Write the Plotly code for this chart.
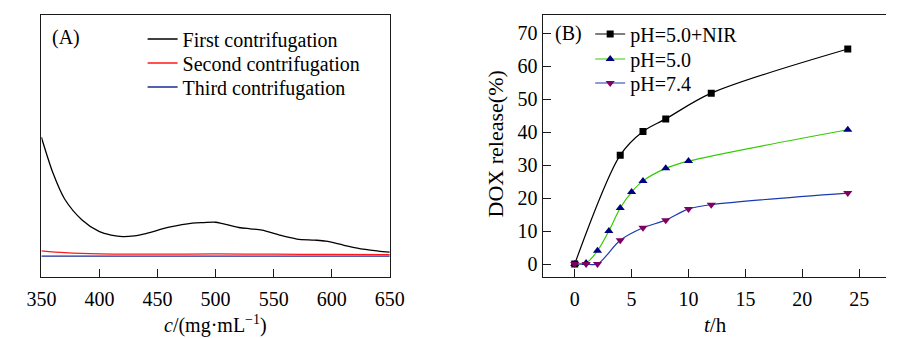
import plotly.graph_objects as go

# Panel A: absorbance spectra of the supernatant after each centrifugation
wavelength = [350, 360, 370, 385, 400, 410, 420, 430, 440, 460, 480, 490, 500, 505,
              520, 530, 540, 555, 570, 585, 595, 610, 627, 640, 650]
first_abs = [0.533, 0.396, 0.297, 0.217, 0.172, 0.159, 0.153, 0.156, 0.165, 0.189,
             0.205, 0.207, 0.208, 0.204, 0.188, 0.183, 0.178, 0.159, 0.144, 0.140,
             0.136, 0.121, 0.105, 0.098, 0.094]
second_wl = [350, 370, 400, 450, 500, 550, 600, 650]
second_abs = [0.099, 0.092, 0.087, 0.086, 0.087, 0.086, 0.085, 0.084]
third_wl = [350, 450, 550, 650]
third_abs = [0.079, 0.079, 0.079, 0.079]

# Panel B: cumulative DOX release
t_nir = [0, 4, 6, 8, 12, 24]
rel_nir = [0, 33.0, 40.2, 44.0, 51.8, 65.2]
t_ph50 = [0, 1, 2, 3, 4, 5, 6, 8, 10, 24]
rel_ph50 = [0, 0.3, 4.0, 10.0, 17.0, 21.8, 25.2, 29.0, 31.2, 40.7]
t_ph74 = [0, 1, 2, 4, 6, 8, 10, 12, 24]
rel_ph74 = [0, 0, 0, 7.2, 11.0, 13.3, 16.7, 18.0, 21.5]

FONT = "Liberation Serif, Times New Roman, Times, serif"
AX = "#1a1a1a"
W, H = 901, 338

fig = go.Figure()

fig.add_trace(go.Scatter(x=wavelength, y=first_abs, mode="lines", name="First contrifugation",
                         line=dict(color="black", width=1.3, shape="spline", smoothing=0.8),
                         xaxis="x", yaxis="y", legend="legend"))
fig.add_trace(go.Scatter(x=second_wl, y=second_abs, mode="lines", name="Second contrifugation",
                         line=dict(color="#ff1a1a", width=1.3, shape="spline", smoothing=0.8),
                         xaxis="x", yaxis="y", legend="legend2"))
fig.add_trace(go.Scatter(x=third_wl, y=third_abs, mode="lines", name="Third contrifugation",
                         line=dict(color="#1a2a9a", width=1.3),
                         xaxis="x", yaxis="y", legend="legend3"))

fig.add_trace(go.Scatter(x=t_nir, y=rel_nir, mode="lines+markers", name="pH=5.0+NIR",
                         line=dict(color="black", width=1.2, shape="spline", smoothing=0.9),
                         marker=dict(symbol="square", size=7, color="black"),
                         xaxis="x2", yaxis="y2", legend="legend4"))
fig.add_trace(go.Scatter(x=t_ph50, y=rel_ph50, mode="lines+markers", name="pH=5.0",
                         line=dict(color="#33cc00", width=1.2, shape="spline", smoothing=0.9),
                         marker=dict(symbol="triangle-up", size=8, color="#000080"),
                         xaxis="x2", yaxis="y2", legend="legend5"))
fig.add_trace(go.Scatter(x=t_ph74, y=rel_ph74, mode="lines+markers", name="pH=7.4",
                         line=dict(color="#1a3ab0", width=1.2, shape="spline", smoothing=0.9),
                         marker=dict(symbol="triangle-down", size=8, color="#800060"),
                         xaxis="x2", yaxis="y2", legend="legend6"))

tick_font = dict(family=FONT, size=20, color="black")

layout = dict(
    width=W, height=H,
    margin=dict(l=0, r=0, t=0, b=0),
    paper_bgcolor="white", plot_bgcolor="white",
    font=dict(family=FONT, color="black"),
    showlegend=True,
    xaxis=dict(domain=[27.3 / W, 387.7 / W], range=[350, 650], tickvals=[350, 400, 450, 500, 550, 600, 650],
               ticks="inside", ticklen=8, tickcolor=AX, tickwidth=1.2, ticklabelstandoff=4,
               showline=True, linecolor=AX, linewidth=1.3, mirror=True,
               showgrid=False, zeroline=False, tickfont=tick_font, anchor="y"),
    yaxis=dict(domain=[(H - 276.7) / H, (H - 15) / H], range=[0, 1],
               showticklabels=False, ticks="",
               showline=True, linecolor=AX, linewidth=1.3, mirror=True,
               showgrid=False, zeroline=False, anchor="x"),
    xaxis2=dict(domain=[545.7 / W, 1.0], range=[-2.83, 27.36], tickvals=[0, 5, 10, 15, 20, 25],
                ticks="inside", ticklen=8, tickcolor=AX, tickwidth=1.2, ticklabelstandoff=4,
                showline=True, linecolor=AX, linewidth=1.3, mirror=True,
                showgrid=False, zeroline=False, tickfont=tick_font, anchor="y2"),
    yaxis2=dict(domain=[(H - 277) / H, (H - 15) / H], range=[-3.94, 75.5],
                tickvals=[0, 10, 20, 30, 40, 50, 60, 70],
                ticks="inside", ticklen=8, tickcolor=AX, tickwidth=1.2,
                showline=True, linecolor=AX, linewidth=1.3, mirror=False,
                showgrid=False, zeroline=False, tickfont=tick_font, anchor="x2"),
)

# one single-entry legend per series so each row sits at its own height
legend_rows = [(132, 39), (132, 63), (132, 87), (595, 34), (595, 59), (595, 83)]
for i, (lx, ly) in enumerate(legend_rows):
    key = "legend" if i == 0 else f"legend{i + 1}"
    layout[key] = dict(x=lx / W, y=1 - ly / H, xanchor="left", yanchor="middle",
                       font=dict(family=FONT, size=20, color="black"),
                       bgcolor="rgba(0,0,0,0)", itemwidth=30, borderwidth=0)

fig.update_layout(**layout)

annotations = [
    dict(text="(A)", x=36 / W, y=1 - 37 / H, xanchor="left", yanchor="middle", size=20),
    dict(text="(B)", x=557 / W, y=1 - 34 / H, xanchor="left", yanchor="middle", size=20),
    dict(text="<i>c</i>/(mg·mL<sup>−1</sup>)", x=207 / W, y=1 - 324 / H, xanchor="center", yanchor="middle", size=20),
    dict(text="<i>t</i>/h", x=725 / W, y=1 - 325 / H, xanchor="center", yanchor="middle", size=21),
    dict(text="DOX release(%)", x=498 / W, y=1 - 144 / H, xanchor="center", yanchor="middle", size=22, textangle=-90),
]
for a in annotations:
    sz = a.pop("size")
    a.update(xref="paper", yref="paper", showarrow=False,
             font=dict(family=FONT, size=sz, color="black"))
fig.update_layout(annotations=annotations)

fig.write_html("out.html")
